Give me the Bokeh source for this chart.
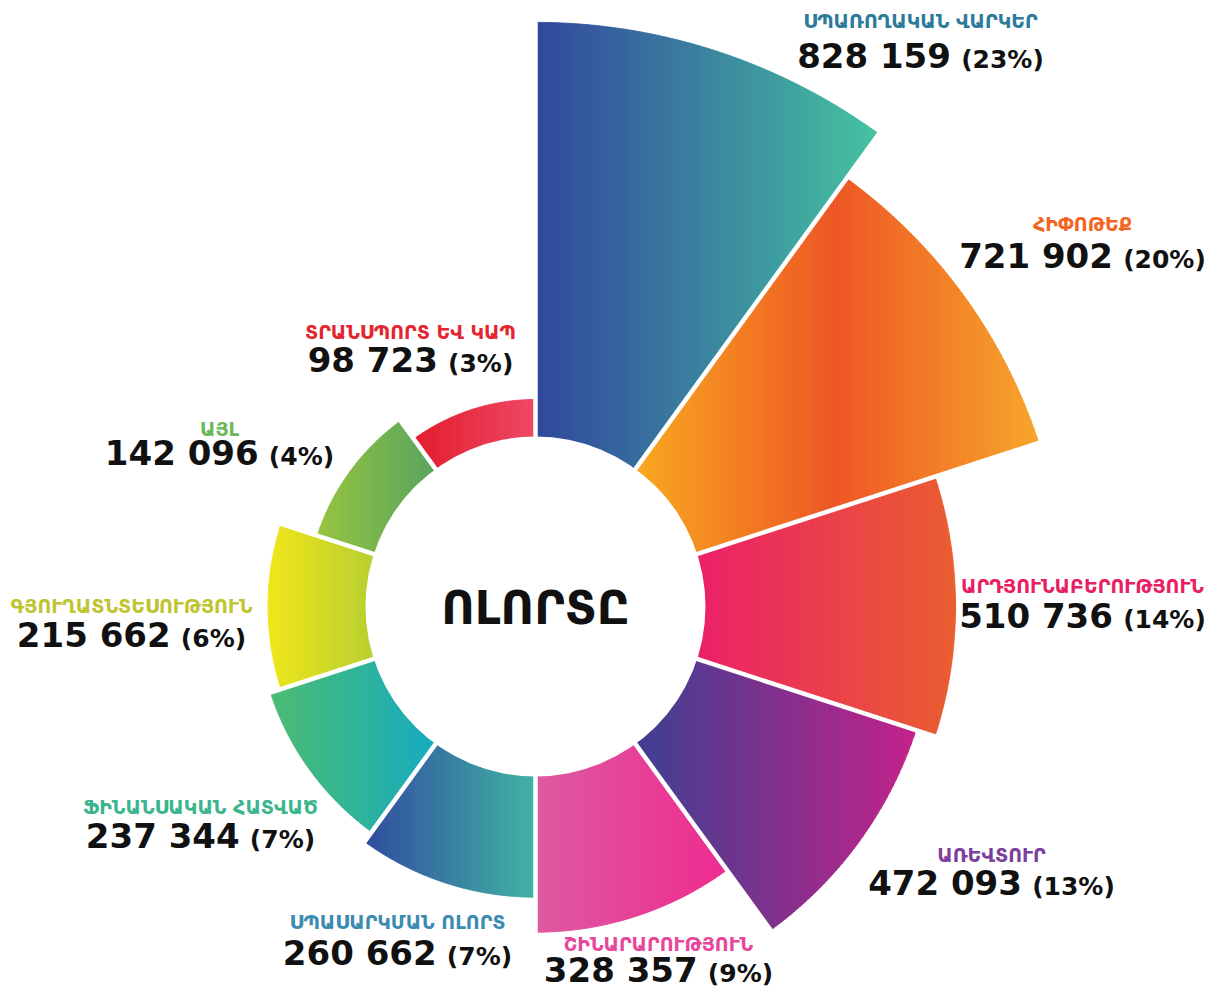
import math
from bokeh.plotting import figure
from bokeh.models import Range1d
from bokeh.embed import file_html
from bokeh.resources import INLINE
from bokeh.core.properties import value

# ---------------- data ----------------
categories = ["ՍՊԱՌՈՂԱԿԱՆ ՎԱՐԿԵՐ", "ՀԻՓՈԹԵՔ", "ԱՐԴՅՈՒՆԱԲԵՐՈՒԹՅՈՒՆ", "ԱՌԵՎՏՈՒՐ",
              "ՇԻՆԱՐԱՐՈՒԹՅՈՒՆ", "ՍՊԱՍԱՐԿՄԱՆ ՈԼՈՐՏ", "ՖԻՆԱՆՍԱԿԱՆ ՀԱՏՎԱԾ",
              "ԳՅՈՒՂԱՏՆՏԵՍՈՒԹՅՈՒՆ", "ԱՅԼ", "ՏՐԱՆՍՊՈՐՏ ԵՎ ԿԱՊ"]
values = [828159, 721902, 510736, 472093, 328357, 260662, 237344, 215662, 142096, 98723]
percents = [23, 20, 14, 13, 9, 7, 7, 6, 4, 3]
center_title = "ՈԼՈՐՏԸ"

# ---------------- styles ----------------
gradients = [
    ["#30469D", "#3A849E", "#44C3A0"],
    ["#F8AA1F", "#EE5623", "#F7A52A"],
    ["#EC1F6A", "#EA5E2F"],
    ["#3A3F90", "#C4218A"],
    ["#DD5AA0", "#EE2A8F"],
    ["#2F4B9E", "#3FB3A3"],
    ["#4DBB72", "#14ABC0"],
    ["#F0E61A", "#B5CE32"],
    ["#96C43E", "#56A35D"],
    ["#E31B2A", "#EE4765"],
]
label_colors = ["#2E7A9A", "#F26522", "#E91E63", "#7B3F9E", "#E6469B",
                "#3D8BB0", "#3BB58E", "#BFC431", "#6BB85A", "#E3262F"]
# label anchors in page pixels: (center x, category baseline y, number baseline y)
label_pos = [(920, 27, 68), (1082, 230, 268), (1082, 592, 628), (991, 861, 895),
             (658, 950, 982), (397, 928, 965), (200, 813, 848), (131, 612, 647),
             (219, 435, 465), (410, 338, 372)]

H = 1008
CX, CY = 535, 606
R_IN = 170
R_BASE = 156
SCALE = 0.517 / 1000.0
STEP = 36.0
GAP = 4.5


def Y(y):
    return H - y


def hex2rgb(h):
    h = h.lstrip("#")
    return [int(h[i:i + 2], 16) for i in (0, 2, 4)]


def grad_color(stops, t):
    t = min(max(t, 0.0), 1.0)
    n = len(stops) - 1
    k = min(int(t * n), n - 1)
    lt = t * n - k
    a, b = hex2rgb(stops[k]), hex2rgb(stops[k + 1])
    c = [round(a[i] + (b[i] - a[i]) * lt) for i in range(3)]
    return "#%02x%02x%02x" % tuple(c)


def clip(poly, x0, keep_greater):
    out = []
    n = len(poly)
    for i in range(n):
        P = poly[i]
        Q = poly[(i + 1) % n]
        pin = P[0] >= x0 if keep_greater else P[0] <= x0
        qin = Q[0] >= x0 if keep_greater else Q[0] <= x0
        if pin:
            out.append(P)
        if pin != qin:
            t = (x0 - P[0]) / (Q[0] - P[0])
            out.append((x0, P[1] + t * (Q[1] - P[1])))
    return out


p = figure(width=1206, height=992, output_backend="svg", toolbar_location=None,
           x_range=Range1d(0, 1206), y_range=Range1d(16, 1008), min_border=0)
p.axis.visible = False
p.grid.visible = False
p.outline_line_color = None
p.background_fill_color = "white"

xs, ys, cols = [], [], []
cyu = Y(CY)
for i, v in enumerate(values):
    r_out = R_BASE + SCALE * v
    a0 = 90 - STEP * i
    a1 = a0 - STEP
    nseg = 72
    poly = []
    for k in range(nseg + 1):
        a = math.radians(a0 + (a1 - a0) * k / nseg)
        poly.append((CX + r_out * math.cos(a), cyu + r_out * math.sin(a)))
    for k in range(nseg + 1):
        a = math.radians(a1 + (a0 - a1) * k / nseg)
        poly.append((CX + (R_IN - 6) * math.cos(a), cyu + (R_IN - 6) * math.sin(a)))
    xmin = min(q[0] for q in poly)
    xmax = max(q[0] for q in poly)
    w = 3.0
    x = xmin
    while x < xmax:
        x2 = min(x + w, xmax)
        piece = clip(clip(poly, x, True), x2, False)
        if len(piece) >= 3:
            xs.append([q[0] for q in piece])
            ys.append([q[1] for q in piece])
            cols.append(grad_color(gradients[i], ((x + x2) / 2 - xmin) / (xmax - xmin)))
        x = x2

p.patches(xs, ys, fill_color=cols, line_color=cols, line_width=0.8)

# white separators between sectors
sx0, sy0, sx1, sy1 = [], [], [], []
for i in range(len(values)):
    a = math.radians(90 - STEP * i)
    sx0.append(CX + (R_IN - 10) * math.cos(a))
    sy0.append(cyu + (R_IN - 10) * math.sin(a))
    sx1.append(CX + 620 * math.cos(a))
    sy1.append(cyu + 620 * math.sin(a))
p.segment(sx0, sy0, sx1, sy1, line_color="white", line_width=GAP)

# white hole in the middle
p.circle(x=[CX], y=[cyu], radius=R_IN, fill_color="white", line_color=None)

# ---------------- labels ----------------
ADV = {d: 0.696 for d in "0123456789"}
ADV.update({" ": 0.348, "(": 0.457, ")": 0.457, "%": 1.002})


def tw(s, size):
    return sum(ADV.get(c, 0.7) for c in s) * size


NUM_SIZE = 34
PCT_SIZE = 25
cat_x, cat_y, num_x, num_y, num_t, pct_x, pct_y, pct_t = [], [], [], [], [], [], [], []
for i, v in enumerate(values):
    cx, cb, nb = label_pos[i]
    ntext = f"{v:,}".replace(",", " ")
    ptext = f"({percents[i]}%)"
    wn = tw(ntext, NUM_SIZE)
    wp = tw(ptext, PCT_SIZE)
    gap = 0.3 * NUM_SIZE
    left = cx - (wn + gap + wp) / 2
    cat_x.append(cx)
    cat_y.append(Y(cb - 6.5))
    num_x.append(left)
    num_y.append(Y(nb - 12.5))
    num_t.append(ntext)
    pct_x.append(left + wn + gap)
    pct_y.append(Y(nb - 9))
    pct_t.append(ptext)

p.text(x=cat_x, y=cat_y, text=categories, text_color=label_colors,
       text_font=value("DejaVu Sans"), text_font_style="bold", text_font_size="19px",
       text_align="center", text_baseline="middle")
p.text(x=num_x, y=num_y, text=num_t, text_color="#111111",
       text_font=value("DejaVu Sans"), text_font_style="bold",
       text_font_size=f"{NUM_SIZE}px", text_align="left", text_baseline="middle")
p.text(x=pct_x, y=pct_y, text=pct_t, text_color="#111111",
       text_font=value("DejaVu Sans"), text_font_style="bold",
       text_font_size=f"{PCT_SIZE}px", text_align="left", text_baseline="middle")
p.text(x=[CX], y=[Y(CY + 1)], text=[center_title], text_color="#111111",
       text_font=value("DejaVu Sans"), text_font_style="bold", text_font_size="46px",
       text_align="center", text_baseline="middle")

open("out.html", "w").write(file_html(p, INLINE))
